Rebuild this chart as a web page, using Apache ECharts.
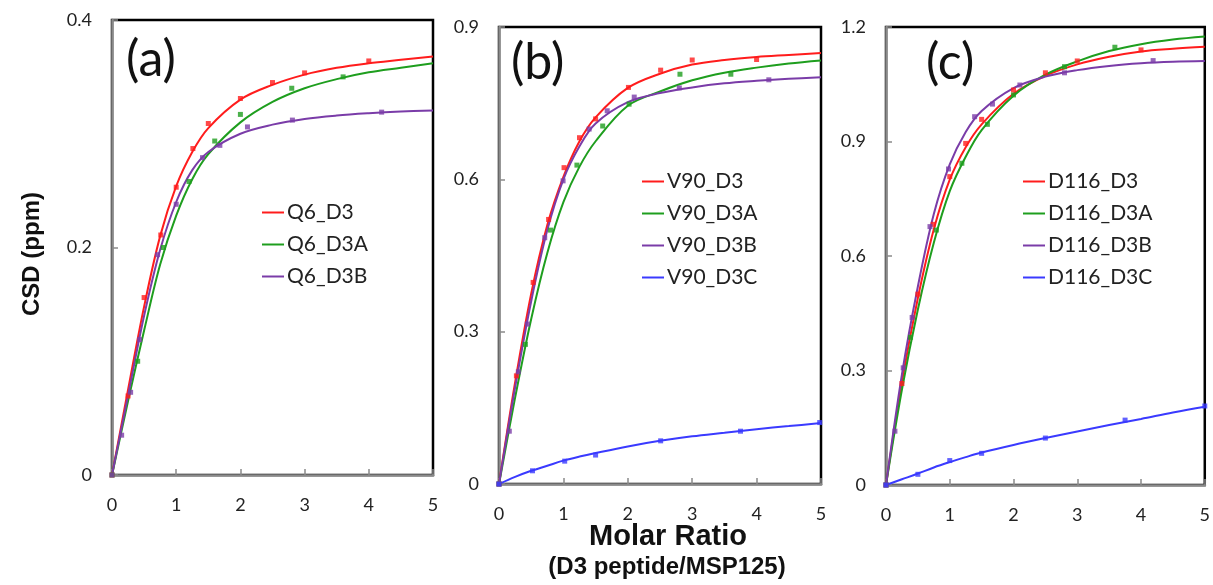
<!DOCTYPE html>
<html>
<head>
<meta charset="utf-8">
<script src="https://cdn.jsdelivr.net/npm/echarts@6/dist/echarts.min.js"></script>
<style>html,body{margin:0;padding:0;background:#fff}#c{width:1213px;height:585px}</style>
</head>
<body>
<div id="c"></div>
<script>
// ---------- data ----------
const xTicks = [0, 1, 2, 3, 4, 5];
const curveX = [0, 0.25, 0.5, 0.75, 1, 1.25, 1.5, 2, 2.5, 3, 3.5, 4, 4.5, 5];

// Panel (a) Q6
const aNames = ['Q6_D3', 'Q6_D3A', 'Q6_D3B'];
const aCurveD3  = [0, 0.075, 0.148, 0.21, 0.254, 0.284, 0.305, 0.330, 0.343, 0.352, 0.358, 0.362, 0.365, 0.368];
const aCurveD3A = [0, 0.065, 0.127, 0.185, 0.228, 0.260, 0.282, 0.310, 0.328, 0.340, 0.348, 0.354, 0.358, 0.362];
const aCurveD3B = [0, 0.070, 0.140, 0.198, 0.240, 0.268, 0.284, 0.300, 0.308, 0.313, 0.316, 0.318, 0.3195, 0.3205];
const aPtsD3  = [[0,0],[0.25,0.0695],[0.5,0.156],[0.76,0.211],[1.0,0.253],[1.26,0.287],[1.5,0.309],[2.0,0.331],[2.5,0.345],[3.0,0.3535],[4.0,0.364]];
const aPtsD3A = [[0,0],[0.4,0.10],[0.8,0.200],[1.2,0.258],[1.6,0.2936],[2.0,0.317],[2.8,0.340],[3.6,0.350]];
const aPtsD3B = [[0,0],[0.15,0.035],[0.29,0.0727],[0.43,0.119],[0.71,0.1937],[1.0,0.238],[1.41,0.279],[1.68,0.2898],[2.11,0.306],[2.81,0.312],[4.2,0.319]];

// Panel (b) V90
const bNames = ['V90_D3', 'V90_D3A', 'V90_D3B', 'V90_D3C'];
const bCurveD3  = [0, 0.200, 0.375, 0.510, 0.605, 0.675, 0.722, 0.780, 0.808, 0.826, 0.835, 0.841, 0.845, 0.849];
const bCurveD3A = [0, 0.170, 0.325, 0.455, 0.555, 0.625, 0.675, 0.745, 0.773, 0.795, 0.810, 0.820, 0.828, 0.834];
const bCurveD3B = [0, 0.190, 0.360, 0.500, 0.600, 0.665, 0.710, 0.752, 0.770, 0.781, 0.789, 0.794, 0.798, 0.801];
const bCurveD3C = [0, 0.014, 0.026, 0.036, 0.046, 0.054, 0.061, 0.074, 0.085, 0.094, 0.101, 0.108, 0.114, 0.120];
const bPtsD3  = [[0,0],[0.27,0.213],[0.53,0.397],[0.77,0.521],[1.01,0.623],[1.25,0.682],[1.5,0.719],[2.01,0.781],[2.51,0.815],[3.0,0.835],[4.0,0.836]];
const bPtsD3A = [[0,0],[0.41,0.275],[0.8,0.500],[1.21,0.628],[1.61,0.705],[2.02,0.748],[2.81,0.807],[3.6,0.807]];
const bPtsD3B = [[0,0],[0.16,0.104],[0.3,0.221],[0.44,0.315],[0.71,0.485],[0.995,0.597],[1.4,0.699],[1.68,0.735],[2.1,0.762],[2.8,0.780],[4.19,0.796]];
const bPtsD3C = [[0,0],[0.52,0.026],[1.02,0.045],[1.5,0.057],[2.51,0.085],[3.75,0.104],[4.98,0.121]];

// Panel (c) D116
const cNames = ['D116_D3', 'D116_D3A', 'D116_D3B', 'D116_D3C'];
const cCurveD3  = [0, 0.270, 0.490, 0.670, 0.800, 0.885, 0.945, 1.025, 1.072, 1.102, 1.122, 1.136, 1.143, 1.148];
const cCurveD3A = [0, 0.250, 0.460, 0.635, 0.770, 0.860, 0.930, 1.020, 1.075, 1.110, 1.137, 1.155, 1.167, 1.175];
const cCurveD3B = [0, 0.290, 0.520, 0.710, 0.840, 0.925, 0.980, 1.040, 1.070, 1.087, 1.098, 1.105, 1.109, 1.111];
const cCurveD3C = [0, 0.015, 0.030, 0.046, 0.060, 0.073, 0.085, 0.105, 0.123, 0.140, 0.157, 0.173, 0.190, 0.205];
const cPtsD3  = [[0,0],[0.25,0.266],[0.5,0.500],[0.74,0.683],[1.0,0.808],[1.25,0.895],[1.5,0.958],[2.0,1.035],[2.5,1.080],[3.0,1.111],[4.0,1.140]];
const cPtsD3A = [[0,0],[0.385,0.387],[0.79,0.668],[1.19,0.843],[1.59,0.945],[2.0,1.022],[2.8,1.096],[3.59,1.147]];
const cPtsD3B = [[0,0],[0.14,0.141],[0.27,0.307],[0.41,0.439],[0.69,0.677],[0.98,0.828],[1.39,0.965],[1.67,0.998],[2.1,1.048],[2.8,1.080],[4.19,1.112]];
const cPtsD3C = [[0,0],[0.5,0.028],[1.0,0.064],[1.5,0.083],[2.5,0.123],[3.75,0.170],[5.0,0.207]];

const yRanges = [{max:0.4, interval:0.2}, {max:0.9, interval:0.3}, {max:1.2, interval:0.3}];
const panelLabels = ['(a)', '(b)', '(c)'];

// ---------- styles ----------
const COLORS = ['#ff1c1c', '#1e9e1e', '#7a3ca8', '#3a3aff'];
const FONT = 'Lato';

const grids = [
  {left:112, top:20, width:321, height:455},
  {left:499, top:27, width:322, height:457},
  {left:886, top:27, width:321, height:458}
];

const panels = [
  {names:aNames, curves:[aCurveD3,aCurveD3A,aCurveD3B], pts:[aPtsD3,aPtsD3A,aPtsD3B], legend:{left:262, top:202}},
  {names:bNames, curves:[bCurveD3,bCurveD3A,bCurveD3B,bCurveD3C], pts:[bPtsD3,bPtsD3A,bPtsD3B,bPtsD3C], legend:{left:642, top:171}},
  {names:cNames, curves:[cCurveD3,cCurveD3A,cCurveD3B,cCurveD3C], pts:[cPtsD3,cPtsD3A,cPtsD3B,cPtsD3C], legend:{left:1023, top:171}}
];

const xAxes = [], yAxes = [], series = [], legends = [], gridOpts = [];
panels.forEach((p, i) => {
  gridOpts.push(Object.assign({show:true, borderColor:'#000', borderWidth:2.5, backgroundColor:'#fff'}, grids[i]));
  xAxes.push({
    type:'value', gridIndex:i, min:0, max:5, interval:1,
    axisLine:{show:true, onZero:false, lineStyle:{color:'#8a8a8a', width:2.5}},
    axisTick:{show:true, inside:true, length:6, lineStyle:{color:'#8a8a8a', width:1.5}},
    axisLabel:{color:'#222', fontFamily:FONT, fontSize:18, margin:21,
      formatter: v => xTicks.includes(v) ? String(v) : ''},
    splitLine:{show:false}
  });
  yAxes.push({
    type:'value', gridIndex:i, min:0, max:yRanges[i].max, interval:yRanges[i].interval,
    axisLine:{show:true, onZero:false, lineStyle:{color:'#8a8a8a', width:2.5}},
    axisTick:{show:true, inside:true, length:6, lineStyle:{color:'#8a8a8a', width:1.5}},
    axisLabel:{color:'#222', fontFamily:FONT, fontSize:18, margin:20},
    splitLine:{show:false}
  });
  p.names.forEach((n, k) => {
    series.push({
      name:n, type:'line', xAxisIndex:i, yAxisIndex:i, smooth:0.35, showSymbol:false,
      lineStyle:{color:COLORS[k], width:2}, itemStyle:{color:COLORS[k]},
      data: curveX.map((x, j) => [x, p.curves[k][j]]), z:3
    });
    series.push({
      name:n + ' data', type:'scatter', xAxisIndex:i, yAxisIndex:i, symbol:'rect', symbolSize:5,
      itemStyle:{color:COLORS[k]}, data:p.pts[k], z:4
    });
  });
  legends.push({
    data: p.names.map((n, k) => ({name:n, icon:'rect', itemStyle:{color:COLORS[k]}})),
    orient:'vertical', left:p.legend.left, top:p.legend.top,
    itemWidth:22, itemHeight:2, itemGap:11, padding:0,
    textStyle:{fontFamily:FONT, fontSize:21, color:'#222', padding:[0,0,0,-2]},
    selectedMode:false
  });
});

const graphics = [
  {type:'text', left:126, top:35, style:{text:panelLabels[0], font:'50px Lato', fill:'#111'}},
  {type:'text', left:511, top:38, style:{text:panelLabels[1], font:'50px Lato', fill:'#111'}},
  {type:'text', left:926, top:38, style:{text:panelLabels[2], font:'50px Lato', fill:'#111'}},
  {type:'text', x:32, y:254, rotation:Math.PI/2,
   style:{text:'CSD (ppm)', font:'bold 24px "Liberation Sans"', fill:'#111', align:'center', verticalAlign:'middle'}},
  {type:'text', x:668, y:537,
   style:{text:'Molar Ratio', font:'bold 29px "Liberation Sans"', fill:'#111', align:'center', verticalAlign:'middle'}},
  {type:'text', x:667, y:567,
   style:{text:'(D3 peptide/MSP125)', font:'bold 24px "Liberation Sans"', fill:'#111', align:'center', verticalAlign:'middle'}}
];

const chart = echarts.init(document.getElementById('c'), null, {renderer:'canvas'});
chart.setOption({
  backgroundColor:'#fff',
  animation:false,
  grid:gridOpts, xAxis:xAxes, yAxis:yAxes, series:series, legend:legends, graphic:graphics
});
</script>
</body>
</html>
